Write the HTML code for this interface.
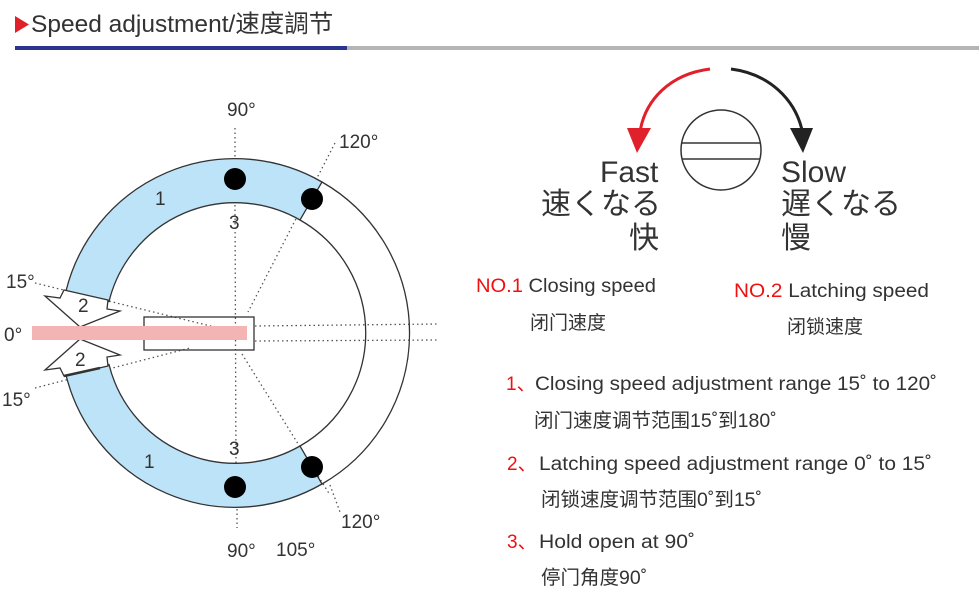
<!DOCTYPE html>
<html><head><meta charset="utf-8"><style>
body{margin:0;background:#fff;width:979px;height:612px;overflow:hidden}
svg{display:block}
text{font-family:"Liberation Sans","Noto Sans CJK SC",sans-serif;fill:#333}
</style></head><body>
<svg width="979" height="612" viewBox="0 0 979 612">
<!-- header -->
<polygon points="15,16 15,33 29,24.5" fill="#e0202a"/>
<text x="31" y="32" font-size="24.5" fill="#333">Speed adjustment/速度調节</text>
<rect x="15" y="46" width="332" height="4" fill="#2b3590"/>
<rect x="347" y="46" width="632" height="4" fill="#b5b5b5"/>

<!-- dotted lines -->
<g stroke="#555" stroke-width="1.3" stroke-dasharray="1.5,3" fill="none">
<line x1="235" y1="128" x2="235" y2="172"/>
<line x1="235" y1="205" x2="236" y2="470"/>
<line x1="237" y1="500" x2="237" y2="528"/>
<line x1="335" y1="143" x2="248" y2="312"/>
<line x1="242" y1="354" x2="330" y2="495"/>
<line x1="330" y1="485" x2="340" y2="512"/>
<line x1="35" y1="283" x2="235" y2="332"/>
<line x1="35" y1="388" x2="190" y2="348"/>
<line x1="255" y1="326" x2="438" y2="324"/>
<line x1="255" y1="341" x2="438" y2="340"/>
</g>

<!-- bands -->
<path d="M66,291 A174 174 0 0 1 322,182 L300,220 A130 130 0 0 0 109,301.5 Z" fill="#bde3f8" stroke="#333" stroke-width="1.3"/>
<path d="M66,375 A174 174 0 0 0 322,484 L300,446 A130 130 0 0 1 109,364.5 Z" fill="#bde3f8" stroke="#333" stroke-width="1.3"/>
<path d="M322,182 A174 174 0 0 1 322,484" fill="none" stroke="#333" stroke-width="1.3"/>
<path d="M300,220 A130 130 0 0 1 300,446" fill="none" stroke="#333" stroke-width="1.3"/>

<!-- arrows 2 -->
<polygon points="64,290 108,300 107,309 120,311 80,327 45,296 60,298" fill="#fff" stroke="#333" stroke-width="1.3"/>
<polygon points="64,376 108,366 107,357 120,355 80,339 45,370 60,368" fill="#fff" stroke="#333" stroke-width="1.3"/>
<line x1="64" y1="376" x2="100" y2="368" stroke="#333" stroke-width="2.5"/>

<!-- pink bar & box -->
<rect x="144" y="317" width="110" height="33" fill="none" stroke="#333" stroke-width="1.3"/>
<rect x="32" y="326" width="215" height="14" fill="#f4b4b4"/>

<!-- dots -->
<g fill="#000">
<circle cx="235" cy="179" r="11"/><circle cx="312" cy="199" r="11"/>
<circle cx="312" cy="467" r="11"/><circle cx="235" cy="487" r="11"/>
</g>

<g font-size="19" fill="#444">
<text x="227" y="116">90°</text>
<text x="339" y="148">120°</text>
<text x="6" y="288">15°</text>
<text x="4" y="341">0°</text>
<text x="2" y="406">15°</text>
<text x="341" y="528">120°</text>
<text x="227" y="557">90°</text>
<text x="276" y="556">105°</text>
<text x="155" y="205">1</text>
<text x="229" y="229">3</text>
<text x="78" y="312">2</text>
<text x="75" y="366">2</text>
<text x="229" y="455">3</text>
<text x="144" y="468">1</text>
</g>

<!-- knob -->
<circle cx="721" cy="150" r="40" fill="#fff" stroke="#333" stroke-width="1.5"/>
<line x1="682" y1="143" x2="760" y2="143" stroke="#333" stroke-width="1.5"/>
<line x1="682" y1="159" x2="760" y2="159" stroke="#333" stroke-width="1.5"/>
<path d="M710,69 C670,74 645,100 640,132" fill="none" stroke="#e0202a" stroke-width="3"/>
<polygon points="627,128 651,128 637,153" fill="#e0202a"/>
<path d="M731,69 C770,74 795,100 802,130" fill="none" stroke="#222" stroke-width="3"/>
<polygon points="790,128 813,128 803,153" fill="#222"/>

<g>
<text x="600" y="182" font-size="30" fill="#333">Fast</text>
<text x="541" y="214" font-size="30" fill="#333">速くなる</text>
<text x="629" y="248" font-size="30" fill="#e0202a">快</text>
<text x="781" y="182" font-size="30" fill="#333">Slow</text>
<text x="781" y="214" font-size="30" fill="#333">遅くなる</text>
<text x="781" y="248" font-size="30" fill="#3a3a9a">慢</text>
</g>

<g font-size="19">
<text x="476" y="292" textLength="180" lengthAdjust="spacingAndGlyphs"><tspan fill="#f01010">NO.1</tspan> Closing speed</text>
<text x="530" y="329" font-size="19">闭门速度</text>
<text x="734" y="297" textLength="195" lengthAdjust="spacingAndGlyphs"><tspan fill="#f01010">NO.2</tspan> Latching speed</text>
<text x="787" y="333" font-size="19">闭锁速度</text>
<text x="506" y="390"><tspan fill="#f01010">1、</tspan></text>
<text x="535" y="390" textLength="402" lengthAdjust="spacingAndGlyphs">Closing speed adjustment range 15˚ to 120˚</text>
<text x="534" y="427" font-size="19.5">闭门速度调节范围15˚到180˚</text>
<text x="507" y="470"><tspan fill="#f01010">2、</tspan></text>
<text x="539" y="470" textLength="393" lengthAdjust="spacingAndGlyphs">Latching speed adjustment range 0˚ to 15˚</text>
<text x="541" y="506" font-size="19.5">闭锁速度调节范围0˚到15˚</text>
<text x="507" y="548"><tspan fill="#f01010">3、</tspan></text>
<text x="539" y="548" textLength="156" lengthAdjust="spacingAndGlyphs">Hold open at 90˚</text>
<text x="541" y="584" font-size="19.5">停门角度90˚</text>
</g>
</svg>
</body></html>
